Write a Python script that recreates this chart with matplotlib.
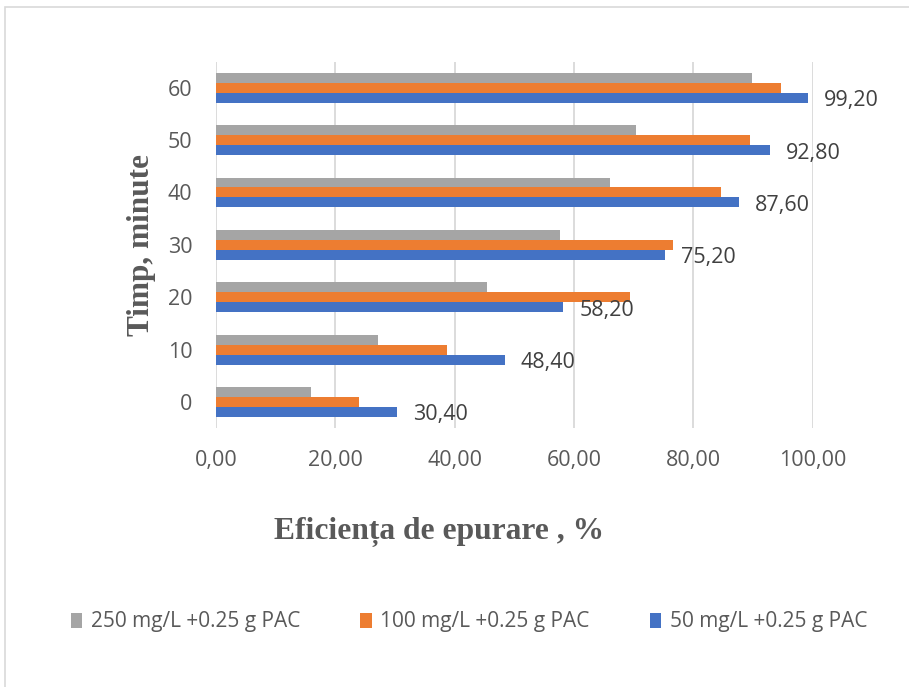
import matplotlib.pyplot as plt
import numpy as np
from matplotlib.patches import Rectangle

# time points (minutes) and removal efficiency (%) per dosing
timp = ["0", "10", "20", "30", "40", "50", "60"]
ef_50 = [30.40, 48.40, 58.20, 75.20, 87.60, 92.80, 99.20]
ef_100 = [23.9, 38.7, 69.4, 76.6, 84.7, 89.5, 94.8]
ef_250 = [15.9, 27.1, 45.5, 57.6, 66.0, 70.4, 89.8]

labels = ["50 mg/L +0.25 g PAC", "100 mg/L +0.25 g PAC", "250 mg/L +0.25 g PAC"]
colors = ["#4472C4", "#ED7D31", "#A5A5A5"]
txt = "#595959"

fig = plt.figure(figsize=(9.09, 6.87), dpi=100)
ax = fig.add_axes([216 / 909, 1 - 428.2 / 687, 596.5 / 909, 366.7 / 687])

y = np.arange(len(timp))
h = 0.19
bars = []
for i, (vals, col) in enumerate(zip([ef_50, ef_100, ef_250], colors)):
    b = ax.barh(y + (i - 1) * h, vals, height=h, color=col, label=labels[i],
                zorder=3)
    bars.append(b)

# value labels on the 50 mg/L series only
for yi, v in zip(y - h, ef_50):
    ax.annotate(f"{v:.2f}".replace(".", ","), (v, yi), xytext=(16, -3),
                textcoords="offset pixels", va="center", ha="left",
                fontsize=15.5, color="#404040", family="Open Sans")

ax.set_xlim(0, 100)
ax.set_ylim(-0.5, len(timp) - 0.5)
ax.set_xticks(np.arange(0, 101, 20))
ax.set_xticklabels([f"{t:.2f}".replace(".", ",") for t in np.arange(0, 101, 20)])
ax.set_yticks(y)
ax.set_yticklabels(timp)
for lab in ax.get_xticklabels() + ax.get_yticklabels():
    lab.set_family("Open Sans")
    lab.set_fontsize(15.5)
    lab.set_color(txt)
ax.tick_params(axis="x", length=0, pad=16)
ax.tick_params(axis="y", length=0, pad=17)
ax.grid(axis="x", color="#d9d9d9", linewidth=1.3, zorder=0)
for s in ax.spines.values():
    s.set_visible(False)

fig.text(142 / 909, 1 - 245 / 687, "Timp, minute", rotation=90, ha="center",
         va="center", fontsize=22.5, fontweight="bold", family="Liberation Serif",
         color=txt)
fig.text(439 / 909, 1 - 532 / 687, "Eficiența de epurare , %", ha="center",
         va="center", fontsize=22.7, fontweight="bold", family="Liberation Serif",
         color=txt)

leg = fig.legend(bars[::-1], labels[::-1], loc="center", ncol=3,
                 bbox_to_anchor=(469 / 909, 1 - 622 / 687), frameon=False,
                 prop={"family": "Open Sans", "size": 15},
                 handlelength=0.55, handleheight=0.7, handletextpad=0.4,
                 columnspacing=2.9)
for t in leg.get_texts():
    t.set_color(txt)

# chart frame
fig.patches.append(Rectangle((5 / 909, -0.05), 1.1, 1.05 - 7 / 687,
                             transform=fig.transFigure, fill=False,
                             edgecolor="#d9d9d9", linewidth=1.2))

fig.savefig("out.png", dpi=100)
